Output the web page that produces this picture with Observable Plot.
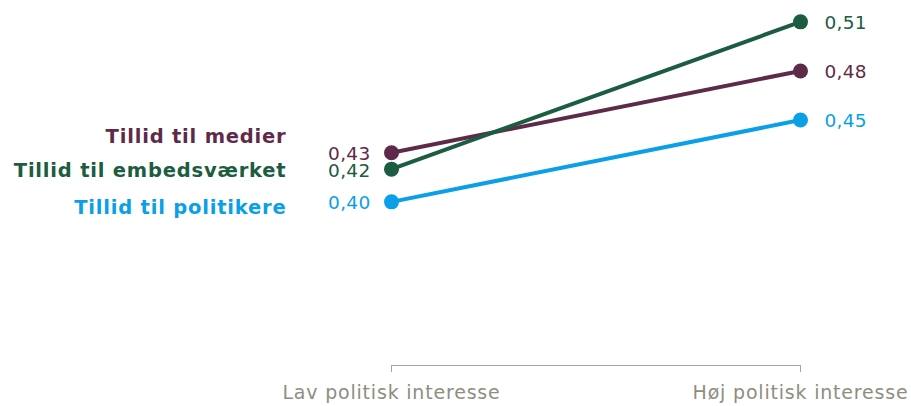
<!DOCTYPE html>
<html>
<head>
<meta charset="utf-8">
<script src="https://cdn.jsdelivr.net/npm/d3@7"></script>
<script src="https://cdn.jsdelivr.net/npm/@observablehq/plot@0.6"></script>
<style>
  html, body { margin: 0; padding: 0; background: #fff; }
  #chart svg { display: block; }
  #chart g[aria-label="x-axis tick label"] text { letter-spacing: 0.8px; }
  #chart .name text { letter-spacing: 0.8px; }
  #chart .val text { letter-spacing: 0.3px; }
</style>
</head>
<body>
<div id="chart"></div>
<script>
const categories = ["Lav politisk interesse", "Høj politisk interesse"];
const series = ["Tillid til medier", "Tillid til embedsværket", "Tillid til politikere"];
const lavValues = [0.43, 0.42, 0.40];
const hojValues = [0.48, 0.51, 0.45];
const colors = ["#5e2a4a", "#1c5c40", "#0a9fe6"];

const data = [];
series.forEach((s, i) => {
  data.push({series: s, cat: categories[0], value: lavValues[i]});
  data.push({series: s, cat: categories[1], value: hojValues[i]});
});
const fmt = d => d.value.toFixed(2).replace(".", ",");
const lav = data.filter(d => d.cat === categories[0]);
const hoj = data.filter(d => d.cat === categories[1]);
const nameDy = [-16, 2, 6];
const axisGray = "#8e8e7e";

const plot = Plot.plot({
  width: 911,
  height: 406,
  marginLeft: 391,
  marginRight: 111,
  marginTop: 5,
  marginBottom: 41,
  style: {fontFamily: "Verdana, 'DejaVu Sans', sans-serif", background: "#fff"},
  x: {type: "point", domain: categories, padding: 0},
  y: {domain: [0.30, 0.52], axis: null},
  color: {domain: series, range: colors},
  marks: [
    Plot.ruleY([0.30], {stroke: "#a6a698", strokeWidth: 1.2}),
    Plot.axisX({tickSize: 7, tickPadding: 13, fontSize: 19, color: axisGray, stroke: "#a6a698", label: null}),
    Plot.line(data, {x: "cat", y: "value", z: "series", stroke: "series", strokeWidth: 4}),
    Plot.dot(data, {x: "cat", y: "value", fill: "series", r: 7.5}),
    Plot.text(lav, {x: "cat", y: "value", text: fmt, fill: "series", textAnchor: "end", dx: -21, dy: 1.5, fontSize: 18.5, className: "val"}),
    Plot.text(hoj, {x: "cat", y: "value", text: fmt, fill: "series", textAnchor: "start", dx: 24, dy: 1.5, fontSize: 18.5, className: "val"}),
    ...series.map((s, i) => Plot.text(lav.filter(d => d.series === s), {
      x: "cat", y: "value", text: "series", fill: "series", textAnchor: "end",
      dx: -105, dy: nameDy[i], fontSize: 19.5, fontWeight: "bold", className: "name"
    }))
  ]
});
document.getElementById("chart").appendChild(plot);
</script>
</body>
</html>
